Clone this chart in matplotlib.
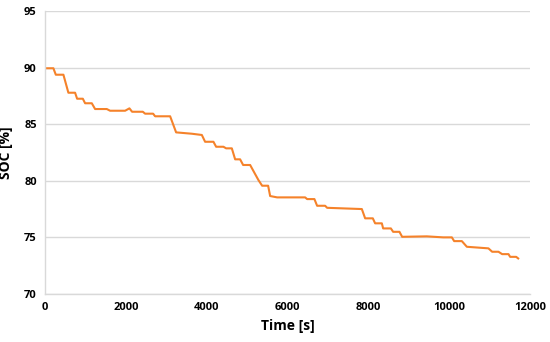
import matplotlib
matplotlib.use("Agg")
import matplotlib.pyplot as plt

# SOC trace
time_s = [0, 205, 265, 453, 576, 742, 792, 933, 990, 1155, 1237, 1526, 1608,
          1979, 2086, 2152, 2417, 2474, 2672, 2721, 3093, 3241, 3629, 3877,
          3958, 4164, 4231, 4411, 4478, 4619, 4701, 4824, 4899, 5072, 5277,
          5369, 5517, 5567, 5740, 6432, 6482, 6662, 6729, 6927, 6977, 7835,
          7917, 8107, 8164, 8330, 8362, 8553, 8610, 8766, 8832, 9443, 9847,
          10062, 10119, 10309, 10433, 10967, 11059, 11215, 11306, 11463,
          11504, 11653, 11703]
soc_pct = [89.94, 89.94, 89.37, 89.37, 87.78, 87.78, 87.25, 87.25, 86.85,
           86.85, 86.34, 86.34, 86.19, 86.19, 86.40, 86.10, 86.10, 85.93,
           85.93, 85.70, 85.70, 84.28, 84.16, 84.05, 83.45, 83.45, 83.01,
           83.01, 82.87, 82.87, 81.90, 81.90, 81.40, 81.40, 80.07, 79.57,
           79.57, 78.66, 78.54, 78.54, 78.39, 78.39, 77.80, 77.80, 77.62,
           77.51, 76.69, 76.69, 76.25, 76.25, 75.80, 75.80, 75.50, 75.50,
           75.06, 75.10, 75.01, 75.01, 74.68, 74.68, 74.18, 74.04, 73.74,
           73.74, 73.53, 73.53, 73.29, 73.29, 73.15]

x_ticks = [0, 2000, 4000, 6000, 8000, 10000, 12000]
y_ticks = [70, 75, 80, 85, 90, 95]

plt.rcParams['font.family'] = ['Open Sans', 'DejaVu Sans']

fig = plt.figure(figsize=(5.5, 3.42), dpi=100)
ax = fig.add_axes([0.082, 0.140, 0.882, 0.828])

ax.plot(time_s, soc_pct, color='#F5822A', linewidth=1.5)

ax.set_xlim(0, 12000)
ax.set_ylim(70, 95)
ax.set_xticks(x_ticks)
ax.set_yticks(y_ticks)
ax.tick_params(length=0, labelsize=8, pad=6)
for lbl in ax.get_xticklabels() + ax.get_yticklabels():
    lbl.set_fontweight('bold')

ax.yaxis.grid(True, color='#d9d9d9', linewidth=1)
ax.set_axisbelow(True)
for side in ['top', 'right']:
    ax.spines[side].set_visible(False)
for side in ['left', 'bottom']:
    ax.spines[side].set_color('#d9d9d9')
    ax.spines[side].set_linewidth(1)

ax.set_xlabel('Time [s]', fontsize=10, fontweight='bold', labelpad=4)
ax.set_ylabel('SOC [%]', fontsize=10, fontweight='bold', labelpad=8)

fig.savefig('out.png', dpi=100)
